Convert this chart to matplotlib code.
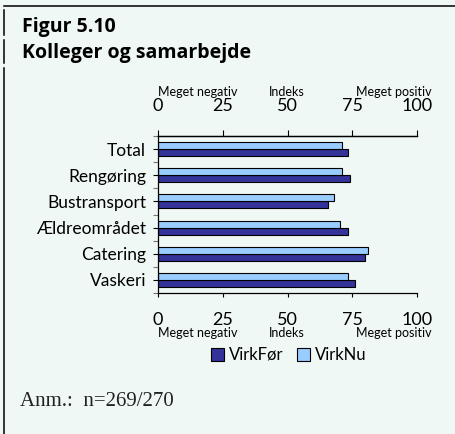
import numpy as np
import matplotlib
matplotlib.use('Agg')
import matplotlib.pyplot as plt
from matplotlib.lines import Line2D
from matplotlib.patches import Patch

categories = ['Total', 'Rengøring', 'Bustransport', 'Ældreområdet', 'Catering', 'Vaskeri']
virk_for = [73.2, 74.2, 65.8, 73.2, 80.0, 76.0]
virk_nu = [71.0, 71.0, 67.9, 70.1, 80.9, 73.2]
xticks = [0, 25, 50, 75, 100]
scale_labels = ['Meget negativ', 'Indeks', 'Meget positiv']

W, H = 456, 434
BG = '#eff8f5'
DARK = '#333399'
LIGHT = '#99ccff'

plt.rcParams['font.family'] = ['Lato', 'DejaVu Sans']


def fx(x):
    return x / W


def fy(y):
    return 1 - y / H


fig = plt.figure(figsize=(W / 100, H / 100), dpi=100, facecolor=BG)

# frame lines
fig.add_artist(Line2D([fx(4), 1], [fy(6), fy(6)], color='black', lw=1.1))
for y0, y1 in [(10, 35), (40, 63), (68, 434)]:
    fig.add_artist(Line2D([fx(4), fx(4)], [fy(y0), fy(y1)], color='black', lw=1.1))

fig.text(fx(22), fy(32), 'Figur 5.10', fontsize=14, fontweight='bold', family='Open Sans',
         va='baseline', ha='left')
fig.text(fx(22), fy(58), 'Kolleger og samarbejde', fontsize=14, fontweight='bold', family='Open Sans',
         va='baseline', ha='left')

ax = fig.add_axes([fx(158), fy(293), fx(417) - fx(158), fy(136) - fy(293)])
ax.set_facecolor('none')

y = np.arange(len(categories))
h = 0.27
ax.barh(y + h / 2, virk_for, height=h, color=DARK, edgecolor='black', linewidth=0.8)
ax.barh(y - h / 2, virk_nu, height=h, color=LIGHT, edgecolor='black', linewidth=0.8)

ax.set_xlim(0, 100)
ax.set_ylim(len(categories) - 0.5, -0.5)
ax.set_yticks(y)
ax.set_yticklabels(categories, fontsize=12.5)
ax.set_yticks(np.arange(len(categories) + 1) - 0.5, minor=True)
ax.tick_params(axis='y', which='both', length=3.6, width=0.8, pad=5)
ax.tick_params(axis='y', which='minor', color='#777777')

ax.set_xticks(xticks)
ax.tick_params(axis='x', labelsize=13, length=3, width=0.8, pad=10.5)
ax.spines['right'].set_visible(False)
for s in ['top', 'bottom', 'left']:
    ax.spines[s].set_linewidth(0.9)

top = ax.twiny()
top.set_xlim(ax.get_xlim())
top.set_xticks(xticks)
top.tick_params(axis='x', labelsize=13, length=4.3, width=0.8, pad=11.5)
for s in ['right', 'bottom', 'left']:
    top.spines[s].set_visible(False)
top.spines['top'].set_linewidth(0.9)

# scale descriptions
small = 9
for yy in (92, 333):
    fig.text(fx(158), fy(yy), scale_labels[0], fontsize=small, ha='left', va='center')
    fig.text(fx(287), fy(yy), scale_labels[1], fontsize=small, ha='center', va='center')
    fig.text(fx(432), fy(yy), scale_labels[2], fontsize=small, ha='right', va='center')

handles = [Patch(facecolor=DARK, edgecolor='black', linewidth=0.8),
           Patch(facecolor=LIGHT, edgecolor='black', linewidth=0.8)]
fig.legend(handles, ['VirkFør', 'VirkNu'], loc='center', bbox_to_anchor=(fx(289), fy(355)), ncol=2,
           frameon=False, fontsize=12, handlelength=0.8, handleheight=0.8, handletextpad=0.3,
           columnspacing=0.8, borderpad=0)

fig.text(fx(20), fy(402), 'Anm.:  n=269/270', fontsize=15, family='Liberation Serif', ha='left',
         va='center', color='#222222')

fig.savefig('out.png', dpi=100, facecolor=BG)
